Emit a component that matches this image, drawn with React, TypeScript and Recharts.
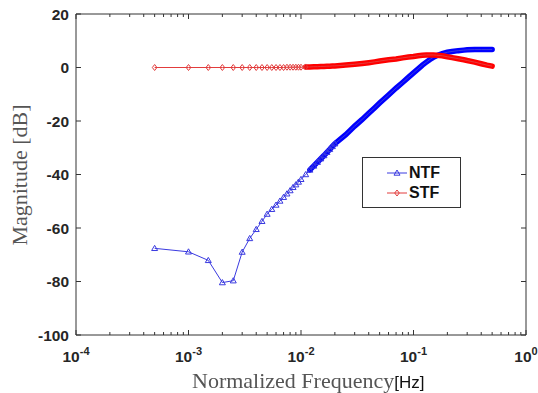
import { Line, LineChart, ReferenceArea, XAxis, YAxis } from "recharts";

// normalized frequency grid (same for both curves)
const freqs = [
  0.0005, 0.001, 0.0015, 0.002, 0.0025, 0.003, 0.0035, 0.004, 0.0045, 0.005,
  0.0055, 0.006, 0.0065, 0.007, 0.0075, 0.008, 0.0085, 0.009, 0.0095, 0.01,
  0.011, 0.012, 0.013, 0.014, 0.015, 0.016, 0.017, 0.018, 0.019, 0.02,
  0.025, 0.03, 0.035, 0.04, 0.045, 0.05, 0.06, 0.07, 0.08, 0.09,
  0.1, 0.11, 0.12, 0.13, 0.14, 0.15, 0.16, 0.18, 0.2, 0.22,
  0.25, 0.28, 0.3, 0.35, 0.4, 0.45, 0.5,
];

const ntf = [
  -67.6, -68.9, -72.1, -80.4, -79.7, -69.0, -63.9, -60.5, -57.5, -54.8,
  -53.0, -51.4, -49.9, -48.5, -47.2, -46.0, -44.8, -43.8, -42.8, -41.8,
  -40.0, -38.3, -36.8, -35.4, -34.1, -32.9, -31.7, -30.6, -29.5, -28.5,
  -25.1, -21.9, -19.4, -17.1, -15.1, -13.3, -10.3, -7.7, -5.6, -3.7,
  -2.0, -0.5, 0.9, 2.0, 3.0, 3.8, 4.4, 5.2, 5.7, 6.0,
  6.3, 6.5, 6.6, 6.7, 6.7, 6.7, 6.7,
];

const stf = [
  0.0, 0.0, 0.0, 0.0, 0.0, 0.0, 0.0, 0.0, 0.0, 0.0,
  0.0, 0.0, 0.0, 0.0, 0.1, 0.1, 0.1, 0.1, 0.1, 0.1,
  0.2, 0.2, 0.3, 0.3, 0.4, 0.4, 0.5, 0.5, 0.6, 0.6,
  0.9, 1.2, 1.5, 1.8, 2.1, 2.4, 2.9, 3.2, 3.6, 3.9,
  4.1, 4.4, 4.6, 4.7, 4.7, 4.7, 4.6, 4.4, 4.0, 3.7,
  3.3, 2.9, 2.6, 2.0, 1.4, 0.9, 0.5,
];

const xTicks = [
  0.0001, 0.0002, 0.0003, 0.0004, 0.0005, 0.0006, 0.0007, 0.0008, 0.0009,
  0.001, 0.002, 0.003, 0.004, 0.005, 0.006, 0.007, 0.008, 0.009,
  0.01, 0.02, 0.03, 0.04, 0.05, 0.06, 0.07, 0.08, 0.09,
  0.1, 0.2, 0.3, 0.4, 0.5, 0.6, 0.7, 0.8, 0.9, 1,
];
const xMajor = [0.0001, 0.001, 0.01, 0.1, 1];
const xMajorExp = ["-4", "-3", "-2", "-1", "0"];
const yTicks = [-100, -80, -60, -40, -20, 0, 20];

// where the markers pile up into a solid band
const NTF_MARKERS_TO = 0.02;
const NTF_BAND_FROM = 0.012;
const STF_MARKERS_TO = 0.011;
const STF_BAND_FROM = 0.011;

const data = freqs.map((f, i) => ({
  f,
  ntf: ntf[i],
  stf: stf[i],
  ntfBand: f >= NTF_BAND_FROM - 1e-9 ? ntf[i] : null,
  stfBand: f >= STF_BAND_FROM - 1e-9 ? stf[i] : null,
}));

const W = 538;
const H = 393;
const LEFT = 76;
const RIGHT = 526;
const TOP = 14;
const BOTTOM = 335;

const BLUE = "#3a3ae0";
const RED = "#e23c3c";
const TICK_FONT = "'Liberation Sans', Arial, sans-serif";
const SERIF = "'Liberation Serif', 'Times New Roman', serif";

function YTick(props: any) {
  const { y, payload } = props;
  return (
    <g>
      <line x1={LEFT} x2={LEFT + 5} y1={y} y2={y} stroke="#333" />
      <line x1={RIGHT - 5} x2={RIGHT} y1={y} y2={y} stroke="#333" />
      <text
        x={LEFT - 7}
        y={y}
        textAnchor="end"
        dominantBaseline="central"
        fontFamily={TICK_FONT}
        fontWeight="bold"
        fontSize={15.5}
        fill="#262626"
      >
        {payload.value}
      </text>
    </g>
  );
}

function XTick(props: any) {
  const { x, payload } = props;
  const v = payload.value;
  const mi = xMajor.findIndex((m) => Math.abs(m - v) < 1e-12);
  const major = mi >= 0;
  const len = major ? 5 : 3;
  return (
    <g>
      <line x1={x} x2={x} y1={BOTTOM} y2={BOTTOM - len} stroke="#333" />
      <line x1={x} x2={x} y1={TOP} y2={TOP + len} stroke="#333" />
      {major && (
        <text
          x={x}
          y={BOTTOM + 27}
          textAnchor="middle"
          fontFamily={TICK_FONT}
          fontWeight="bold"
          fontSize={15.5}
          fill="#262626"
        >
          10
          <tspan dy={-7} fontSize={11}>
            {xMajorExp[mi]}
          </tspan>
        </text>
      )}
    </g>
  );
}

function triangleDot(props: any) {
  const { cx, cy, payload, index } = props;
  if (payload.f > NTF_MARKERS_TO + 1e-9) return <g key={`t${index}`} />;
  return (
    <path
      key={`t${index}`}
      d={`M${cx},${cy - 3} L${cx + 3},${cy + 2.2} L${cx - 3},${cy + 2.2} Z`}
      fill="none"
      stroke={BLUE}
      strokeWidth={1}
    />
  );
}

function diamondDot(props: any) {
  const { cx, cy, payload, index } = props;
  if (payload.f > STF_MARKERS_TO + 1e-9) return <g key={`d${index}`} />;
  return (
    <path
      key={`d${index}`}
      d={`M${cx},${cy - 3} L${cx + 2.3},${cy} L${cx},${cy + 3} L${cx - 2.3},${cy} Z`}
      fill="none"
      stroke={RED}
      strokeWidth={1}
    />
  );
}

function LegendBox() {
  const row = (label: string, color: string, diamond: boolean) => (
    <div style={{ display: "flex", alignItems: "center", height: 20 }}>
      <svg width={22} height={10} style={{ marginLeft: 23 }}>
        <line x1={1} x2={21} y1={5} y2={5} stroke={color} strokeWidth={1} />
        {diamond ? (
          <path d="M11,2 L13.3,5 L11,8 L8.7,5 Z" fill="none" stroke={color} />
        ) : (
          <path d="M11,2 L14,7.2 L8,7.2 Z" fill="none" stroke={color} />
        )}
      </svg>
      <span
        style={{
          fontFamily: TICK_FONT,
          fontWeight: "bold",
          fontSize: 16,
          color: "#111",
          marginLeft: 1,
        }}
      >
        {label}
      </span>
    </div>
  );
  return (
    <div
      style={{
        position: "absolute",
        left: 362,
        top: 157,
        width: 99,
        height: 51,
        border: "1px solid #333",
        background: "#fff",
        boxSizing: "border-box",
        paddingTop: 5,
      }}
    >
      {row("NTF", BLUE, false)}
      {row("STF", RED, true)}
    </div>
  );
}

export default function App() {
  return (
    <div
      style={{
        position: "fixed",
        left: 0,
        top: 0,
        width: W,
        height: H,
        background: "#fff",
      }}
    >
      <LineChart
        width={W}
        height={H}
        data={data}
        margin={{ top: TOP, right: W - RIGHT, bottom: 0, left: 8 }}
      >
        <XAxis
          dataKey="f"
          type="number"
          scale="log"
          domain={[0.0001, 1]}
          ticks={xTicks}
          interval={0}
          allowDataOverflow
          height={H - BOTTOM}
          axisLine={false}
          tickLine={false}
          tick={<XTick />}
        />
        <YAxis
          type="number"
          domain={[-100, 20]}
          ticks={yTicks}
          interval={0}
          allowDataOverflow
          width={LEFT - 8}
          axisLine={false}
          tickLine={false}
          tick={<YTick />}
        />
        <ReferenceArea
          x1={0.0001}
          x2={1}
          y1={-100}
          y2={20}
          fill="none"
          stroke="#333"
          strokeWidth={1}
        />
        <Line
          dataKey="ntfBand"
          stroke="#0000ff"
          strokeWidth={5.5}
          strokeLinecap="round"
          dot={false}
          activeDot={false}
          isAnimationActive={false}
        />
        <Line
          dataKey="ntf"
          stroke={BLUE}
          strokeWidth={1}
          dot={triangleDot}
          activeDot={false}
          isAnimationActive={false}
        />
        <Line
          dataKey="stfBand"
          stroke="#ff0000"
          strokeWidth={5.5}
          strokeLinecap="round"
          dot={false}
          activeDot={false}
          isAnimationActive={false}
        />
        <Line
          dataKey="stf"
          stroke={RED}
          strokeWidth={1}
          dot={diamondDot}
          activeDot={false}
          isAnimationActive={false}
        />
      </LineChart>
      <LegendBox />
      <div
        style={{
          position: "absolute",
          left: 20,
          top: 175,
          transform: "translate(-50%, -50%) rotate(-90deg)",
          whiteSpace: "nowrap",
          fontFamily: SERIF,
          fontSize: 22,
          color: "#555",
        }}
      >
        Magnitude [dB]
      </div>
      <div
        style={{
          position: "absolute",
          left: 192,
          top: 370,
          whiteSpace: "nowrap",
          lineHeight: "22px",
        }}
      >
        <span style={{ fontFamily: SERIF, fontSize: 22, color: "#555" }}>
          Normalized Frequency
        </span>
        <span style={{ fontFamily: TICK_FONT, fontSize: 17, color: "#111" }}>[Hz]</span>
      </div>
    </div>
  );
}
